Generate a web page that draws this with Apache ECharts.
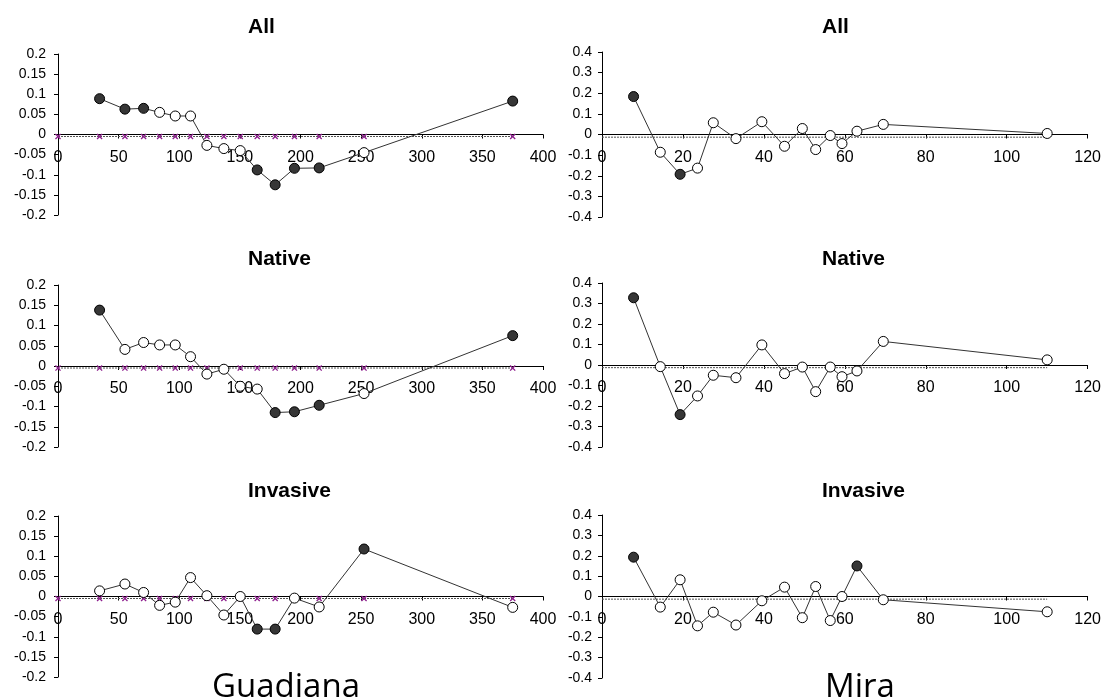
<!DOCTYPE html>
<html>
<head>
<meta charset="utf-8">
<script src="https://cdn.jsdelivr.net/npm/echarts@6/dist/echarts.min.js"></script>
<style>
html,body{margin:0;padding:0;background:#fff;}
#chart{width:1104px;height:698px;}
</style>
</head>
<body>
<div id="chart"></div>
<script>
// ---- data ----
const panelTitles = ['All', 'Native', 'Invasive'];
const siteNames = ['Guadiana', 'Mira'];

// Guadiana (left column)
const guadX = [34.3, 55.2, 70.6, 83.8, 96.7, 109.3, 122.8, 136.8, 150.3, 164.3, 179.1, 195.0, 215.4, 252.4, 375];
const guadAllY = [0.089, 0.063, 0.065, 0.055, 0.046, 0.046, -0.027, -0.035, -0.040, -0.088, -0.125, -0.084, -0.083, -0.045, 0.083];
const guadAllSig = [1, 1, 1, 0, 0, 0, 0, 0, 0, 1, 1, 1, 1, 0, 1];
const guadNatY = [0.138, 0.041, 0.058, 0.052, 0.052, 0.023, -0.020, -0.008, -0.050, -0.057, -0.115, -0.113, -0.097, -0.068, 0.075];
const guadNatSig = [1, 0, 0, 0, 0, 0, 0, 0, 0, 0, 1, 1, 1, 0, 1];
const guadInvY = [0.014, 0.031, 0.010, -0.022, -0.014, 0.047, 0.002, -0.046, 0.000, -0.081, -0.081, -0.004, -0.026, 0.118, -0.027];
const guadInvSig = [0, 0, 0, 0, 0, 0, 0, 0, 0, 1, 1, 0, 0, 1, 0];
const guadNullX = [0, 34.3, 55.2, 70.6, 83.8, 96.7, 109.3, 122.8, 136.8, 150.3, 164.3, 179.1, 195.0, 215.4, 252.4, 375];
const guadNullY = -0.005;

// Mira (right column)
const miraX = [7.8, 14.4, 19.3, 23.6, 27.5, 33.1, 39.5, 45.1, 49.5, 52.8, 56.4, 59.3, 63.0, 69.5, 110];
const miraAllY = [0.184, -0.086, -0.193, -0.163, 0.057, -0.020, 0.062, -0.057, 0.029, -0.073, -0.005, -0.044, 0.016, 0.049, 0.005];
const miraAllSig = [1, 0, 1, 0, 0, 0, 0, 0, 0, 0, 0, 0, 0, 0, 0];
const miraNatY = [0.328, -0.008, -0.242, -0.151, -0.050, -0.062, 0.098, -0.042, -0.010, -0.130, -0.010, -0.057, -0.029, 0.115, 0.025];
const miraNatSig = [1, 0, 1, 0, 0, 0, 0, 0, 0, 0, 0, 0, 0, 0, 0];
const miraInvY = [0.193, -0.052, 0.082, -0.144, -0.077, -0.140, -0.021, 0.046, -0.104, 0.049, -0.118, 0.000, 0.150, -0.016, -0.075];
const miraInvSig = [1, 0, 0, 0, 0, 0, 0, 0, 0, 0, 0, 0, 1, 0, 0];
const miraNullX = [0, 110];
const miraNullY = -0.013;

const guadXTicks = {min: 0, max: 400, interval: 50};
const guadYTicks = {min: -0.2, max: 0.2, interval: 0.05};
const miraXTicks = {min: 0, max: 120, interval: 20};
const miraYTicks = {min: -0.4, max: 0.4, interval: 0.1};

// ---- layout ----
const leftGrids = [
  {left: 58, top: 54, width: 485, height: 161},
  {left: 58, top: 285, width: 485, height: 162},
  {left: 58, top: 516, width: 485, height: 161}
];
const rightGrids = [
  {left: 602, top: 52, width: 486, height: 165},
  {left: 602, top: 283, width: 486, height: 164},
  {left: 602, top: 515, width: 486, height: 163}
];
const titleTops = [12, 244, 476];

const crossPath = 'path://M0,1.5 L1.5,0 L5,3.5 L8.5,0 L10,1.5 L6.5,5 L10,8.5 L8.5,10 L5,6.5 L1.5,10 L0,8.5 L3.5,5 Z';

const grids = [], xAxes = [], yAxes = [], series = [], titles = [];

function addPanel(idx, grid, xt, yt, xs, ys, sig, nullX, nullY, showCross, yMargin) {
  grids.push(Object.assign({containLabel: false}, grid));
  xAxes.push({
    type: 'value', gridIndex: idx, min: xt.min, max: xt.max, interval: xt.interval,
    position: 'bottom', offset: -grid.height / 2,
    axisLine: {onZero: false, lineStyle: {color: '#000', width: 1}},
    axisTick: {show: true, length: 4, lineStyle: {color: '#000'}},
    axisLabel: {fontFamily: 'Liberation Sans, Arial, sans-serif', fontSize: 16, color: '#000', margin: 15},
    splitLine: {show: false}
  });
  yAxes.push({
    type: 'value', gridIndex: idx, min: yt.min, max: yt.max, interval: yt.interval,
    axisLine: {show: true, onZero: false, lineStyle: {color: '#000', width: 1}},
    axisTick: {show: true, length: 4, lineStyle: {color: '#000'}},
    axisLabel: {fontFamily: 'Liberation Sans, Arial, sans-serif', fontSize: 14, color: '#000', margin: yMargin,
      formatter: v => String(Math.round(v * 1000) / 1000)},
    splitLine: {show: false}
  });
  series.push({
    type: 'line', xAxisIndex: idx, yAxisIndex: idx, z: 2,
    data: nullX.map(x => [x, nullY]),
    symbol: showCross ? crossPath : 'none', symbolSize: 6, showAllSymbol: true,
    itemStyle: {color: '#8e1f8e'},
    lineStyle: {color: '#555', width: 1, type: [2, 1]},
    silent: true, animation: false
  });
  series.push({
    type: 'line', xAxisIndex: idx, yAxisIndex: idx, z: 3,
    data: xs.map((x, i) => ({
      value: [x, ys[i]],
      itemStyle: {color: sig[i] ? '#363636' : '#ffffff', borderColor: '#000', borderWidth: 1}
    })),
    symbol: 'circle', symbolSize: 10, showAllSymbol: true,
    lineStyle: {color: '#333', width: 1},
    animation: false
  });
}

const guadY = [guadAllY, guadNatY, guadInvY];
const guadS = [guadAllSig, guadNatSig, guadInvSig];
const miraY = [miraAllY, miraNatY, miraInvY];
const miraS = [miraAllSig, miraNatSig, miraInvSig];

let k = 0;
for (let r = 0; r < 3; r++) {
  addPanel(k++, leftGrids[r], guadXTicks, guadYTicks, guadX, guadY[r], guadS[r], guadNullX, guadNullY, true, 12);
  titles.push({text: panelTitles[r], left: 243, top: titleTops[r],
    textStyle: {fontFamily: 'Liberation Sans, Arial, sans-serif', fontSize: 21, fontWeight: 'bold', color: '#000'}});
  addPanel(k++, rightGrids[r], miraXTicks, miraYTicks, miraX, miraY[r], miraS[r], miraNullX, miraNullY, false, 10);
  titles.push({text: panelTitles[r], left: 817, top: titleTops[r],
    textStyle: {fontFamily: 'Liberation Sans, Arial, sans-serif', fontSize: 21, fontWeight: 'bold', color: '#000'}});
}

const chart = echarts.init(document.getElementById('chart'), null, {renderer: 'canvas'});
chart.setOption({
  backgroundColor: '#fff',
  animation: false,
  title: titles,
  grid: grids,
  xAxis: xAxes,
  yAxis: yAxes,
  series: series,
  graphic: [
    {type: 'text', left: 212, bottom: -6, style: {text: siteNames[0], font: '33px "Open Sans"', fill: '#000'}},
    {type: 'text', left: 825, bottom: -6, style: {text: siteNames[1], font: '33px "Open Sans"', fill: '#000'}}
  ]
});
</script>
</body>
</html>
